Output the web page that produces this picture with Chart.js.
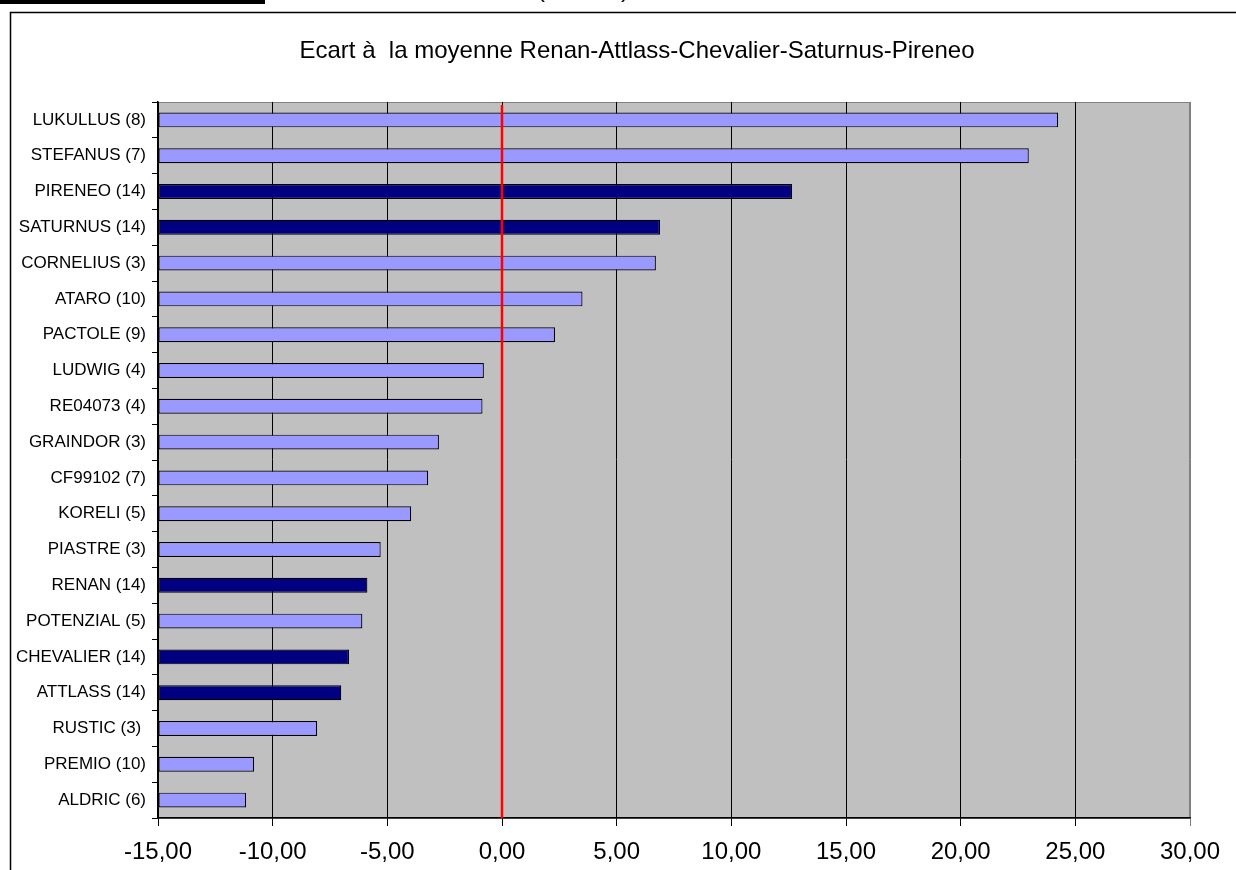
<!DOCTYPE html>
<html>
<head>
<meta charset="utf-8">
<script src="https://cdn.jsdelivr.net/npm/chart.js@4/dist/chart.umd.min.js"></script>
<style>
    body { margin: 0; background: #fff; overflow: hidden; }
    #wrap { position: relative; width: 1236px; height: 870px; }
    #topbar { position: absolute; left: 0; top: 0; width: 265px; height: 4px; background: #000; }
    .cut { position: absolute; top: -25px; font: 24px "Liberation Sans", Arial, sans-serif; line-height: 28px; color: #000; }
    canvas { position: absolute; left: 0; top: 0; }
</style>
</head>
<body>
<div id="wrap">
    <canvas id="chart" width="1236" height="870"></canvas>
    <div id="topbar"></div>
    <span class="cut" style="left:537px">(</span>
    <span class="cut" style="left:621px">)</span>
</div>
<script>
// Chart data, top to bottom
const chartTitle = 'Ecart à  la moyenne Renan-Attlass-Chevalier-Saturnus-Pireneo';
const varieties = [
    'LUKULLUS (8)', 'STEFANUS (7)', 'PIRENEO (14)', 'SATURNUS (14)', 'CORNELIUS (3)',
    'ATARO (10)', 'PACTOLE (9)', 'LUDWIG (4)', 'RE04073 (4)', 'GRAINDOR (3)',
    'CF99102 (7)', 'KORELI (5)', 'PIASTRE (3)', 'RENAN (14)', 'POTENZIAL (5)',
    'CHEVALIER (14)', 'ATTLASS (14)', 'RUSTIC (3) ', 'PREMIO (10)', 'ALDRIC (6)'
];
const ecart = [
    24.25, 22.97, 12.65, 6.89, 6.71,
    3.51, 2.31, -0.79, -0.85, -2.75,
    -3.22, -3.96, -5.29, -5.87, -6.09,
    -6.67, -7.01, -8.06, -10.81, -11.16
];
// reference varieties (the ones averaged in the title)
const references = ['RENAN', 'ATTLASS', 'CHEVALIER', 'SATURNUS', 'PIRENEO'];
const xMin = -15;
const xMax = 30;
const xStep = 5;
const zeroLine = 0;

const FONT = '"Liberation Sans", Arial, sans-serif';

const barColors = varieties.map(v => {
    const name = v.split(' ')[0];
    return references.includes(name) ? '#000080' : '#9999FF';
});

/**
 * Excel-like frame, plot background, red zero line and title
 */
const excelLook = {
    id: 'excelLook',
    beforeDraw(chart) {
        const ctx = chart.ctx;
        const a = chart.chartArea;
        ctx.save();
        // chart frame
        ctx.strokeStyle = '#000';
        ctx.lineWidth = 1.5;
        ctx.beginPath();
        ctx.moveTo(10.5, 880);
        ctx.lineTo(10.5, 12.5);
        ctx.lineTo(1240, 12.5);
        ctx.stroke();
        // plot area
        ctx.fillStyle = '#C0C0C0';
        ctx.fillRect(a.left, a.top, a.right - a.left, a.bottom - a.top);
        ctx.strokeStyle = '#808080';
        ctx.lineWidth = 1;
        ctx.strokeRect(a.left + 0.5, a.top + 0.5, a.right - a.left - 1, a.bottom - a.top);
        ctx.restore();
    },
    afterDatasetsDraw(chart) {
        const ctx = chart.ctx;
        const a = chart.chartArea;
        const x = chart.scales.x.getPixelForValue(zeroLine);
        ctx.save();
        ctx.strokeStyle = '#FF0000';
        ctx.lineWidth = 2.5;
        ctx.beginPath();
        ctx.moveTo(x, a.top + 3);
        ctx.lineTo(x, a.bottom);
        ctx.stroke();
        ctx.restore();
    },
    afterDraw(chart) {
        const ctx = chart.ctx;
        ctx.save();
        ctx.fillStyle = '#000';
        ctx.font = '24px ' + FONT;
        ctx.textAlign = 'center';
        ctx.textBaseline = 'middle';
        ctx.fillText(chartTitle, 637, 51);
        ctx.restore();
    }
};

new Chart(document.getElementById('chart').getContext('2d'), {
    type: 'bar',
    data: {
        labels: varieties,
        datasets: [{
            data: ecart,
            base: xMin,
            backgroundColor: barColors,
            borderColor: '#000',
            borderWidth: 1.2,
            borderSkipped: false,
            categoryPercentage: 0.8,
            barPercentage: 0.52
        }]
    },
    options: {
        indexAxis: 'y',
        responsive: false,
        animation: false,
        devicePixelRatio: 1,
        layout: {
            padding: { left: 10, top: 102, right: 46, bottom: 0 }
        },
        scales: {
            x: {
                min: xMin,
                max: xMax,
                afterFit: scale => { scale.height = 52; },
                ticks: {
                    stepSize: xStep,
                    color: '#000',
                    font: { family: FONT, size: 24 },
                    padding: 12,
                    maxRotation: 0,
                    callback: v => v.toFixed(2).replace('.', ',')
                },
                grid: {
                    color: ctx => ctx.tick && ctx.tick.value === xMax ? '#808080' : '#000',
                    lineWidth: 1,
                    tickLength: 8
                },
                border: { color: '#000', width: 1.5 }
            },
            y: {
                afterFit: scale => { scale.width = 148; },
                ticks: {
                    color: '#000',
                    font: { family: FONT, size: 17 },
                    padding: 6
                },
                grid: {
                    drawOnChartArea: false,
                    color: '#000',
                    tickLength: 6
                },
                border: { color: '#000', width: 1.5 }
            }
        },
        plugins: {
            legend: { display: false },
            tooltip: { enabled: false },
            title: { display: false }
        }
    },
    plugins: [excelLook]
});
</script>
</body>
</html>
